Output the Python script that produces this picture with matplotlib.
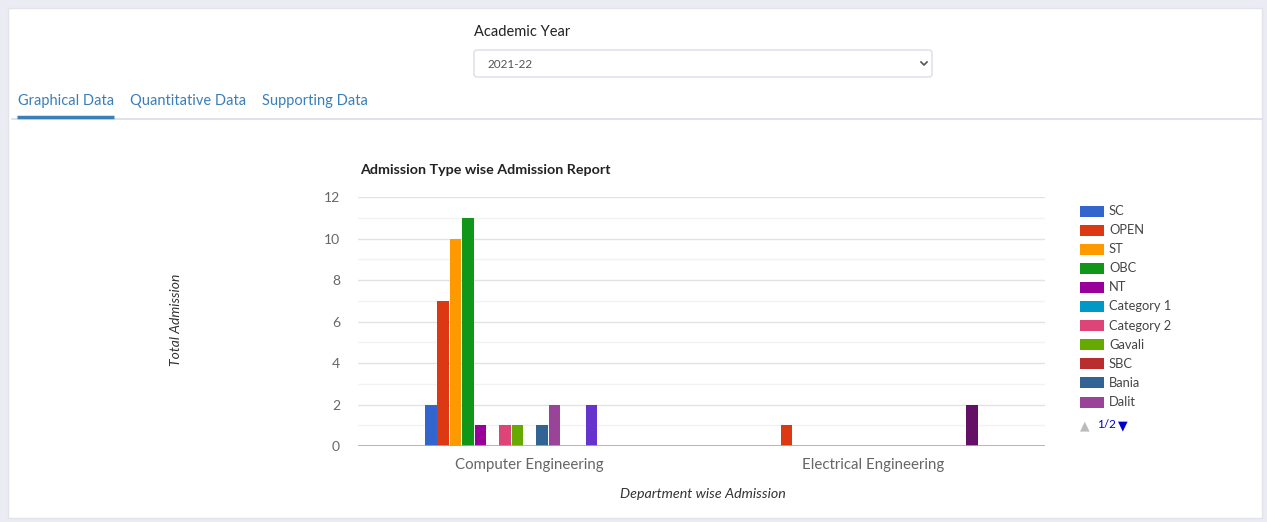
import numpy as np
import matplotlib.pyplot as plt
from matplotlib.patches import Rectangle, FancyBboxPatch

#===== DATA =====
departments = ["Computer Engineering", "Electrical Engineering"]
series_names = ["SC", "OPEN", "ST", "OBC", "NT", "Category 1", "Category 2",
                "Gavali", "SBC", "Bania", "Dalit",
                "Other 1", "Other 2", "Other 3", "Other 4", "Other 5", "Other 6"]
computer_vals = [2, 7, 10, 11, 1, 0, 1, 1, 0, 1, 2, 0, 0, 2, 0, 0, 0]
electrical_vals = [0, 1, 0, 0, 0, 0, 0, 0, 0, 0, 0, 0, 0, 0, 0, 0, 2]
colors = ["#3366cc", "#dc3912", "#ff9900", "#109618", "#990099", "#0099c6",
          "#dd4477", "#66aa00", "#b82e2e", "#316395", "#994499", "#22aa99",
          "#aaaa11", "#6633cc", "#e67300", "#8b0707", "#651067"]
y_ticks = [0, 2, 4, 6, 8, 10, 12]

W, H = 1267, 522
plt.rcParams['font.family'] = ['Lato', 'DejaVu Sans']

fig = plt.figure(figsize=(W / 100, H / 100), dpi=100)
fig.patch.set_facecolor("#ebebf3")

def fx(px):
    return px / W

def fy(py):
    return 1 - py / H

# page card
bg = fig.add_axes([0, 0, 1, 1])
bg.set_xlim(0, W)
bg.set_ylim(H, 0)
bg.axis("off")
bg.add_patch(Rectangle((8, 8), 1254, 510, facecolor="white", edgecolor="#e2e2ea", lw=1))

# header controls
bg.text(474, 32, "Academic Year", fontsize=10.5, color="#222", va="center")
bg.add_patch(FancyBboxPatch((474, 50), 458, 27, boxstyle="round,pad=0,rounding_size=3",
                            facecolor="white", edgecolor="#dcdce4", lw=1))
bg.text(487, 64, "2021-22", fontsize=8.5, color="#555", va="center")
bg.plot([921, 924, 927], [62, 65, 62], color="#555", lw=1.2)

tabs = [("Graphical Data", 18), ("Quantitative Data", 130), ("Supporting Data", 262)]
for label, x0 in tabs:
    bg.text(x0, 101, label, fontsize=10.5, color="#3a7fb8", va="center")
bg.plot([12, 1262], [119, 119], color="#dcdce6", lw=1.2)
bg.plot([17, 114], [117, 117], color="#3a7fb8", lw=2.5, solid_capstyle="butt")

# chart title and axis titles
bg.text(360, 170, "Admission Type wise Admission Report", fontsize=10.3, color="#222",
        va="center", fontweight="bold")
bg.text(176, 320, "Total Admission", fontsize=10, color="#333", style="italic",
        rotation=90, va="center", ha="center")
bg.text(703, 494, "Department wise Admission", fontsize=10.3, color="#333", style="italic",
        va="center", ha="center")

#===== CHART =====
ax = fig.add_axes([fx(358), fy(446), fx(1045) - fx(358), fy(197) - fy(446)])
ax.set_facecolor("none")
n = len(series_names)
bw = 0.036
group_x = np.arange(len(departments)) + 0.5
for i in range(n):
    vals = [computer_vals[i], electrical_vals[i]]
    xs = group_x + (i - (n - 1) / 2) * bw
    ax.bar(xs, vals, width=bw * 0.92, color=colors[i], zorder=3)

ax.set_xlim(0, 2)
ax.set_ylim(0, 12)
ax.set_yticks(y_ticks)
ax.set_yticks(np.arange(1, 12, 2), minor=True)
ax.grid(axis="y", which="major", color="#e2e2e2", lw=1, zorder=0)
ax.grid(axis="y", which="minor", color="#f2f2f2", lw=1, zorder=0)
ax.axhline(0, color="#aaaaaa", lw=1.2, zorder=4)
ax.set_xticks(group_x)
ax.set_xticklabels(departments)
for s in ax.spines.values():
    s.set_visible(False)
ax.tick_params(axis="both", which="both", length=0, colors="#666")
ax.tick_params(axis="y", labelsize=10, pad=13)
ax.tick_params(axis="x", labelsize=10.8, pad=9)

# legend (page 1 of 2)
for i in range(11):
    yy = 211 + i * 19.1
    bg.add_patch(Rectangle((1080, yy - 5.5), 24, 11, facecolor=colors[i], edgecolor="none"))
    bg.text(1109, yy, series_names[i], fontsize=9.3, color="#444", va="center")
bg.text(1080, 425, "\u25b2", fontsize=9, color="#bbbbbb", va="center")
bg.text(1097, 425, "1/2", fontsize=8.5, color="#0000cc", va="center")
bg.text(1118, 425, "\u25bc", fontsize=9, color="#0000cc", va="center")

fig.savefig("out.png", dpi=100, facecolor=fig.get_facecolor())
